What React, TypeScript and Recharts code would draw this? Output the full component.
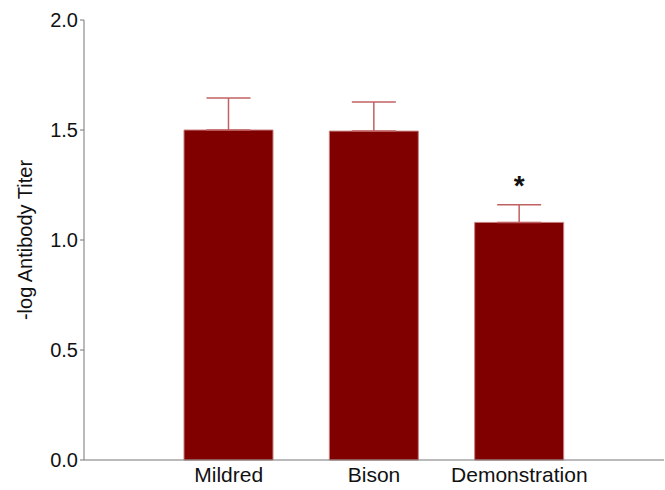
import React from 'react';
import { BarChart, Bar, XAxis, YAxis, ErrorBar, LabelList } from 'recharts';

const strains = ['Mildred', 'Bison', 'Demonstration'];
const titer = [1.5, 1.495, 1.08];
const sem = [0.145, 0.132, 0.08];
const marks = ['', '', '*'];
const yTicks = [0, 0.5, 1.0, 1.5, 2.0];

const font = 'Liberation Sans, Arial, sans-serif';

const data = strains.map((name, i) => ({
  name,
  titer: titer[i],
  err: [0, sem[i]],
  mark: marks[i],
}));

const Star = (props: any) => {
  const { x, y, width, value } = props;
  if (!value) return null;
  return (
    <text x={x + width / 2} y={y - 27} textAnchor="middle" fontSize={28} fontWeight="bold" fill="#111" fontFamily={font}>
      {value}
    </text>
  );
};

const App = () => {
  return (
    <div style={{ position: 'absolute', left: 0, top: 0, width: 665, height: 490, background: '#fff' }}>
      <BarChart
        width={665}
        height={490}
        data={data}
        margin={{ top: 20, right: 1, left: 0, bottom: 0 }}
        barCategoryGap={28}
      >
        <XAxis
          dataKey="name"
          height={30}
          padding={{ left: 72, right: 72 }}
          axisLine={{ stroke: '#777' }}
          tickLine={false}
          tick={{ fill: '#111', fontSize: 21, fontFamily: font }}
          tickMargin={1}
        />
        <YAxis
          domain={[0, 2]}
          ticks={yTicks}
          tickFormatter={(v: number) => v.toFixed(1)}
          width={84}
          axisLine={{ stroke: '#777' }}
          tickLine={{ stroke: '#777' }}
          tickSize={4}
          tick={{ fill: '#111', fontSize: 20, fontFamily: font }}
          label={{
            value: '-log Antibody Titer',
            angle: -90,
            position: 'insideLeft',
            dx: 20,
            style: { textAnchor: 'middle', fill: '#111', fontSize: 20, fontFamily: font },
          }}
        />
        <Bar dataKey="titer" fill="#800000" stroke="#c88080" strokeWidth={1} isAnimationActive={false}>
          <ErrorBar dataKey="err" width={22} stroke="#c06060" strokeWidth={1.5} />
          <LabelList dataKey="mark" content={<Star />} />
        </Bar>
      </BarChart>
    </div>
  );
};

export default App;
